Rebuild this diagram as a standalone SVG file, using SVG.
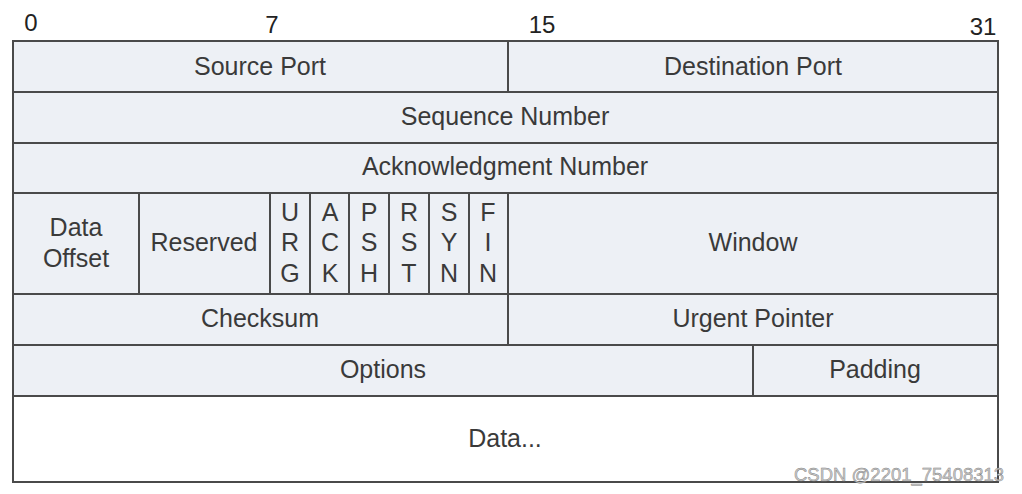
<svg xmlns="http://www.w3.org/2000/svg" width="1022" height="494" viewBox="0 0 1022 494">
<style>
.c{fill:#edf0f5;stroke:#4a4a4a;stroke-width:2}
.d{fill:#ffffff;stroke:#4a4a4a;stroke-width:2}
text{font-family:"Liberation Sans",Arial,sans-serif;font-size:25px;fill:#3a3a3a;text-anchor:middle}
.n{font-size:24px;fill:#222}
.w{font-size:18.5px;fill:#cccccc;stroke:#808080;stroke-width:0.45;text-anchor:start}
</style>
<rect width="1022" height="494" fill="#ffffff"/>
<g id="bits">
<text class="n" x="31" y="31">0</text>
<text class="n" x="272" y="33">7</text>
<text class="n" x="542" y="33">15</text>
<text class="n" x="983" y="35">31</text>
</g>
<g id="source-port"><rect class="c" x="13" y="41" width="495" height="51"/><text x="260" y="75">Source Port</text></g>
<g id="destination-port"><rect class="c" x="508" y="41" width="490" height="51"/><text x="753" y="75">Destination Port</text></g>
<g id="sequence-number"><rect class="c" x="13" y="92" width="985" height="51"/><text x="505" y="125">Sequence Number</text></g>
<g id="ack-number"><rect class="c" x="13" y="143" width="985" height="50"/><text x="505" y="175">Acknowledgment Number</text></g>
<g id="data-offset"><rect class="c" x="13" y="193" width="126" height="101"/><text x="76" y="236">Data</text><text x="76" y="267">Offset</text></g>
<g id="reserved"><rect class="c" x="139" y="193" width="131" height="101"/><text x="204" y="251">Reserved</text></g>
<g id="urg"><rect class="c" x="270" y="193" width="40" height="101"/><text x="290" y="221">U</text><text x="290" y="251">R</text><text x="290" y="282">G</text></g>
<g id="ack"><rect class="c" x="310" y="193" width="39" height="101"/><text x="330" y="221">A</text><text x="330" y="251">C</text><text x="330" y="282">K</text></g>
<g id="psh"><rect class="c" x="349" y="193" width="40" height="101"/><text x="369" y="221">P</text><text x="369" y="251">S</text><text x="369" y="282">H</text></g>
<g id="rst"><rect class="c" x="389" y="193" width="40" height="101"/><text x="409" y="221">R</text><text x="409" y="251">S</text><text x="409" y="282">T</text></g>
<g id="syn"><rect class="c" x="429" y="193" width="40" height="101"/><text x="449" y="221">S</text><text x="449" y="251">Y</text><text x="449" y="282">N</text></g>
<g id="fin"><rect class="c" x="469" y="193" width="39" height="101"/><text x="488" y="221">F</text><text x="488" y="251">I</text><text x="488" y="282">N</text></g>
<g id="window"><rect class="c" x="508" y="193" width="490" height="101"/><text x="753" y="251">Window</text></g>
<g id="checksum"><rect class="c" x="13" y="294" width="495" height="51"/><text x="260" y="327">Checksum</text></g>
<g id="urgent-pointer"><rect class="c" x="508" y="294" width="490" height="51"/><text x="753" y="327">Urgent Pointer</text></g>
<g id="options"><rect class="c" x="13" y="345" width="740" height="51"/><text x="383" y="378">Options</text></g>
<g id="padding"><rect class="c" x="753" y="345" width="245" height="51"/><text x="875" y="378">Padding</text></g>
<g id="data"><rect class="d" x="13" y="396" width="985" height="86"/><text x="505" y="447">Data...</text></g>
<g id="connectors"></g>
<text class="w" x="794" y="481">CSDN @2201_75408313</text>
</svg>
